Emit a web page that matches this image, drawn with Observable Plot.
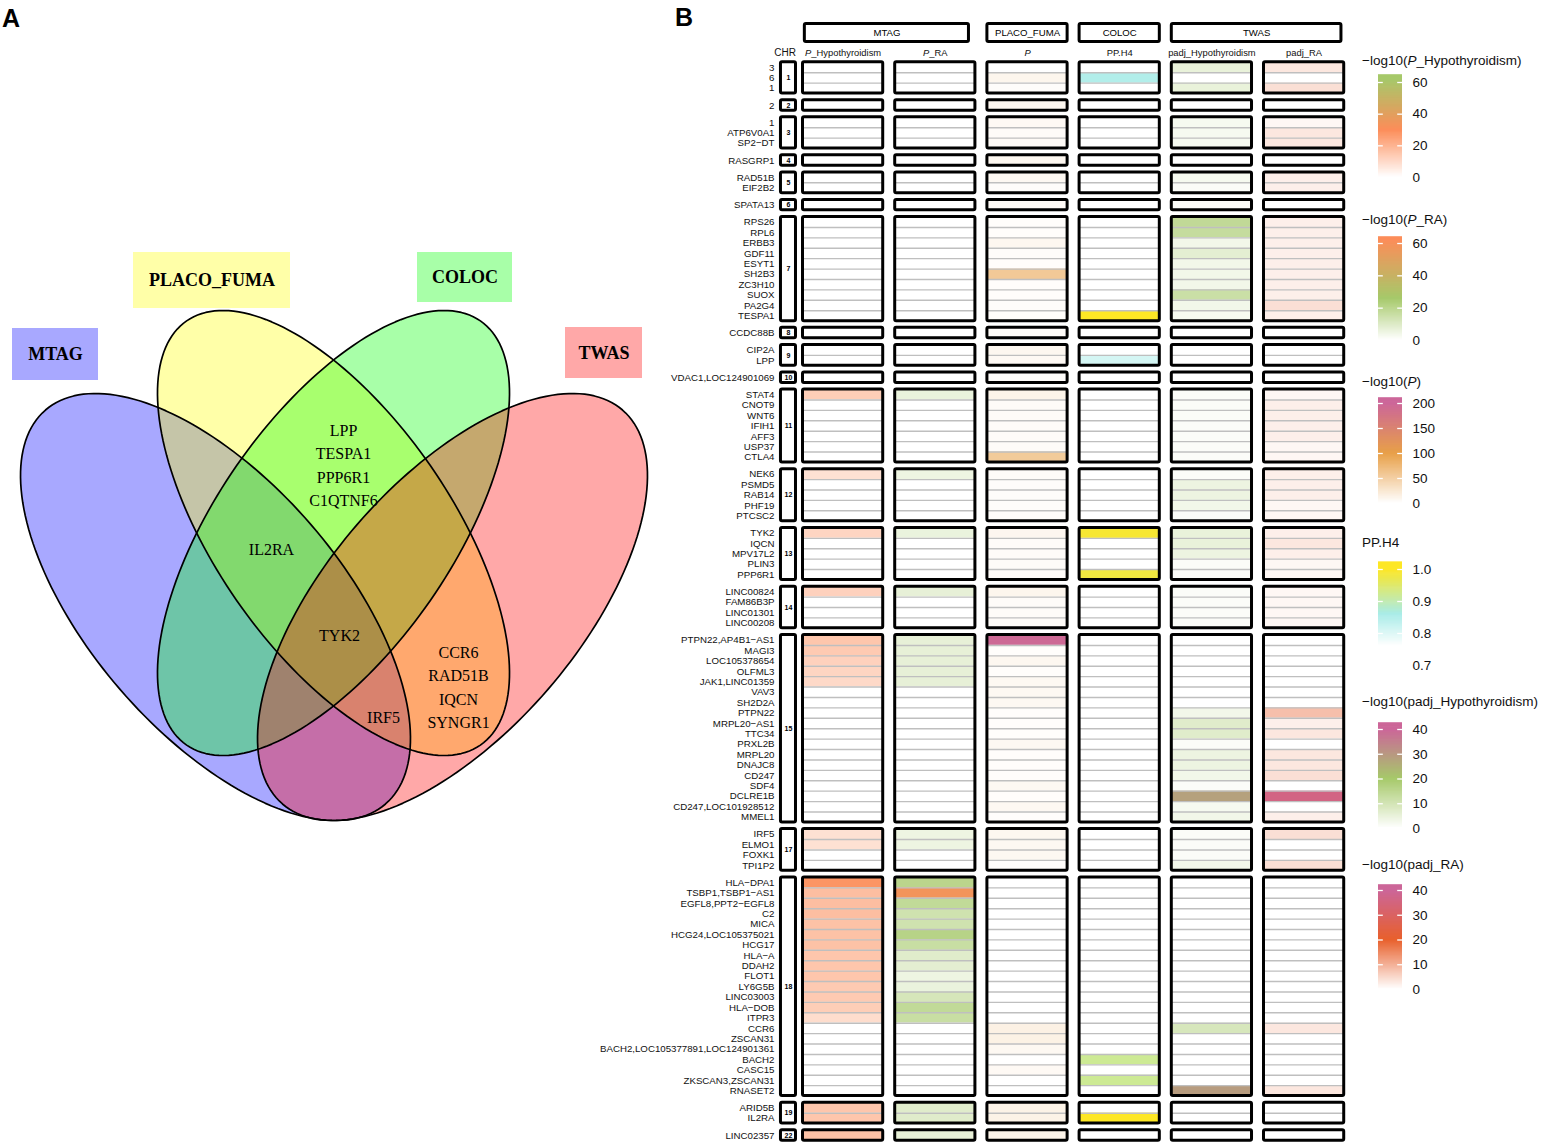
<!DOCTYPE html>
<html><head><meta charset="utf-8">
<script src="https://cdn.jsdelivr.net/npm/d3@7"></script>
<script src="https://cdn.jsdelivr.net/npm/@observablehq/plot@0.6"></script>
<style>
body{margin:0;background:#fff;}
#root{position:relative;width:1554px;height:1147px;overflow:hidden;background:#fff;font-family:"Liberation Sans",Arial,sans-serif;}
.panel{position:absolute;font:bold 25px "Liberation Sans",Arial,sans-serif;color:#000;line-height:25px;}
.ltitle{position:absolute;font:13.5px "Liberation Sans",Arial,sans-serif;color:#111;white-space:nowrap;line-height:16px;}
</style></head><body><div id="root"></div>
<script>
// ---------------- DATA ----------------
// Panel A: Venn sets and shared genes
const vennSets = ["MTAG", "PLACO_FUMA", "COLOC", "TWAS"];
const vennRegions = ["PLACO_FUMA&COLOC", "MTAG&PLACO_FUMA&COLOC", "MTAG&PLACO_FUMA&COLOC&TWAS", "PLACO_FUMA&TWAS", "MTAG&PLACO_FUMA&TWAS"];
const vennGenes = [["LPP", "TESPA1", "PPP6R1", "C1QTNF6"], ["IL2RA"], ["TYK2"], ["CCR6", "RAD51B", "IQCN", "SYNGR1"], ["IRF5"]];

// Panel B: chromosomes and genes
const chromosomes = ["1","2","3","4","5","6","7","8","9","10","11","12","13","14","15","17","18","19","22"];
const genesPerChr = [
  ["3","6","1"],
  ["2"],
  ["1","ATP6V0A1","SP2-DT"],
  ["RASGRP1"],
  ["RAD51B","EIF2B2"],
  ["SPATA13"],
  ["RPS26","RPL6","ERBB3","GDF11","ESYT1","SH2B3","ZC3H10","SUOX","PA2G4","TESPA1"],
  ["CCDC88B"],
  ["CIP2A","LPP"],
  ["VDAC1,LOC124901069"],
  ["STAT4","CNOT9","WNT6","IFIH1","AFF3","USP37","CTLA4"],
  ["NEK6","PSMD5","RAB14","PHF19","PTCSC2"],
  ["TYK2","IQCN","MPV17L2","PLIN3","PPP6R1"],
  ["LINC00824","FAM86B3P","LINC01301","LINC00208"],
  ["PTPN22,AP4B1-AS1","MAGI3","LOC105378654","OLFML3","JAK1,LINC01359","VAV3","SH2D2A","PTPN22","MRPL20-AS1","TTC34","PRXL2B","MRPL20","DNAJC8","CD247","SDF4","DCLRE1B","CD247,LOC101928512","MMEL1"],
  ["IRF5","ELMO1","FOXK1","TPI1P2"],
  ["HLA-DPA1","TSBP1,TSBP1-AS1","EGFL8,PPT2-EGFL8","C2","MICA","HCG24,LOC105375021","HCG17","HLA-A","DDAH2","FLOT1","LY6G5B","LINC03003","HLA-DOB","ITPR3","CCR6","ZSCAN31","BACH2,LOC105377891,LOC124901361","BACH2","CASC15","ZKSCAN3,ZSCAN31","RNASET2"],
  ["ARID5B","IL2RA"],
  ["LINC02357"]
];

const methods = ["MTAG","PLACO_FUMA","COLOC","TWAS"];
const columnNames = ["P_Hypothyroidism","P_RA","P","PP.H4","padj_Hypothyroidism","padj_RA"];

// -log10(P_Hypothyroidism), MTAG
const pHypothyroidism = [
  [0,0,0],[0],[0,0,0],[0],[0,0],[0],[0,0,0,0,0,0,0,0,0,0],[0],[0,0],[0],
  [13,0,0,0,0,0,0],[8,0,0,0,0],[11,0,0,0,0],[12,0,0,0],
  [15,14,12,11,10,0,0,0,0,0,0,0,0,0,0,0,0,0],
  [8,8,0,0],
  [28,17,17,17,16,16,16,15,15,15,14,14,13,9,0,0,0,0,0,0,0],
  [15,15],[16]
];
// -log10(P_RA), MTAG
const pRA = [
  [0,0,0],[0],[0,0,0],[0],[0,0],[0],[0,0,0,0,0,0,0,0,0,0],[0],[0,0],[0],
  [6,0,0,0,0,0,0],[5,0,0,0,0],[6,0,0,0,0],[7,0,0,0],
  [7,7,7,7,7,0,0,0,0,0,0,0,0,0,0,0,0,0],
  [5,5,0,0],
  [20,58,18,14,14,21,16,9,8,5,6,12,18,16,0,0,0,0,0,0,0],
  [9,9],[7]
];
// -log10(P), PLACO_FUMA
const placoP = [
  [0,10,3],[8],[6,4,5],[8],[7,3],[5],[2,2,8,3,2,57,2,2,3,2],[4],[8,6],[3],
  [12,4,4,4,4,4,55],[4,3,3,3,3],[9,4,4,4,4],[10,4,4,4],
  [195,2,8,2,7,7,7,2,2,2,7,2,2,2,7,2,7,2],
  [8,7,7,2],
  [0,0,0,0,0,0,0,0,0,0,0,0,0,0,15,14,7,0,6,0,0],
  [13,13],[12]
];
// PP.H4, COLOC (null = not tested)
const ppH4 = [
  [null,0.85,null],[null],[null,null,null],[null],[null,null],[null],
  [null,null,null,null,null,null,null,null,null,1.0],[null],[null,0.81],[null],
  [null,null,null,null,null,null,null],[null,null,null,null,null],[0.99,null,null,null,0.98],[null,null,null,null],
  [null,null,null,null,null,null,null,null,null,null,null,null,null,null,null,null,null,null],
  [null,null,null,null],
  [null,null,null,null,null,null,null,null,null,null,null,null,null,null,null,null,null,0.92,null,0.92,null],
  [null,1.0],[null]
];
// -log10(padj_Hypothyroidism), TWAS
const padjHypothyroidism = [
  [5,0,5],[0],[2,2,2],[0],[2,1],[1],[14,13,3,6,3,3,3,12,3,2],[0],[0,0],[0],
  [1,1,1,1,1,1,1],[1,4,4,3,1],[5,5,4,1,1],[1,1,1,1],
  [0,0,0,0,0,0,0,3,7,7,1,4,4,3,1,28,2,3],
  [1,1,1,3],
  [0,0,0,0,0,0,0,0,0,0,0,0,0,0,9,0,0,0,0,0,29],
  [0,0],[0]
];
// -log10(padj_RA), TWAS
const padjRA = [
  [3,0,4],[0],[1,3,3],[0],[2,2],[0],[2,2,2,2,2,2,2,2,4,2],[0],[0,0],[0],
  [1,2,2,2,2,1,1],[2,2,2,1,1],[2,3,2,1,1],[1,1,1,1],
  [0,0,0,0,0,0,0,8,2,3,0,3,3,4,0,36,0,2],
  [4,0,0,4],
  [0,0,0,0,0,0,0,0,0,0,0,0,0,0,3,0,0,0,0,0,3],
  [0,0],[0]
];

const legendTitles = ["−log10(<i>P</i>_Hypothyroidism)","−log10(<i>P</i>_RA)","−log10(<i>P</i>)","PP.H4","−log10(padj_Hypothyroidism)","−log10(padj_RA)"];
const legendTicks = [[0,20,40,60],[0,20,40,60],[0,50,100,150,200],[0.7,0.8,0.9,1.0],[0,10,20,30,40],[0,10,20,30,40]];

// ---------------- STYLES / LAYOUT ----------------
const columnValues = [pHypothyroidism, pRA, placoP, ppH4, padjHypothyroidism, padjRA];
const colorScales = [
  {domain:[0,30,62], range:["#ffffff","#fc8d59","#a6c96a"]},
  {domain:[0,26,62], range:["#ffffff","#a6c96a","#fc8d59"]},
  {domain:[0,100,200], range:["#ffffff","#e8a048","#cc6699"]},
  {domain:[0.76,0.86,1.0], range:["#ffffff","#a9ece8","#fde725"]},
  {domain:[0,20,40], range:["#ffffff","#a6c96a","#cc6699"]},
  {domain:[0,20,40], range:["#ffffff","#e8602c","#cc6699"]}
];
// legend geometry (page pixels): [label px of first tick, label px of last tick, bar top, bar bottom, title center]
const legendGeom = [[177,82,75,181,61],[340,243,237,342,220],[503,403,398,503,382],[665,569,562,648,543],[828,729,723,827,702],[989,890,885,992,865]];
const vennColors = ["#0000ff","#ffff00","#00ff00","#ff0000"];
// ellipse geometry in panel pixels (y down): centre, semi-axes, angle of major axis
const vennEllipses = [
  {cx:215, cy:606.5, a:260.2, b:126.1, rot:49.2},
  {cx:333, cy:532.5, a:258, b:118, rot:55.3},
  {cx:333, cy:532.5, a:258, b:118, rot:124.7},
  {cx:452, cy:606.5, a:260.2, b:126.1, rot:130.8}
];
const vennLabelBoxes = [[12,98,328,380],[133,290,252,308],[417,512,252,302],[565,642,327,378]];
const vennRegionPos = [[343,463],[271,547],[339,633],[458,685],[383,715]];

const root = document.getElementById("root");
function place(el, left, top){ el.style.position = "absolute"; el.style.left = left + "px"; el.style.top = top + "px"; root.appendChild(el); return el; }
const dash = s => s.replace(/-/g, "−");

// ---------------- PANEL A ----------------
{
  const pts = e => { const th = e.rot * Math.PI / 180; return d3.range(0, 361, 2).map(deg => { const t = deg * Math.PI / 180; return {x: e.cx + e.a*Math.cos(t)*Math.cos(th) - e.b*Math.sin(t)*Math.sin(th), y: e.cy + e.a*Math.cos(t)*Math.sin(th) + e.b*Math.sin(t)*Math.cos(th)}; }); };
  const marks = [];
  vennEllipses.forEach((e, i) => marks.push(Plot.line(pts(e), {x:"x", y:"y", curve:"linear-closed", fill: vennColors[i], fillOpacity: 0.34, stroke: "none"})));
  vennEllipses.forEach((e, i) => marks.push(Plot.line(pts(e), {x:"x", y:"y", curve:"linear-closed", fill: "none", stroke: "black", strokeWidth: 1.7})));
  vennSets.forEach((s, i) => {
    const b = vennLabelBoxes[i];
    marks.push(Plot.rect([s], {x1: b[0], x2: b[1], y1: b[2], y2: b[3], fill: vennColors[i], fillOpacity: 0.34}));
    marks.push(Plot.text([s], {x: (b[0]+b[1])/2, y: (b[2]+b[3])/2, text: d => d, fontSize: 18, fontWeight: "bold", fontFamily: "Liberation Serif, Times New Roman, serif", fill: "black"}));
  });
  vennRegions.forEach((r, i) => {
    marks.push(Plot.text([vennGenes[i].join("\n")], {x: vennRegionPos[i][0], y: vennRegionPos[i][1], text: d => d, fontSize: 16, lineHeight: 1.46, fontFamily: "Liberation Serif, Times New Roman, serif", fill: "black"}));
  });
  const venn = Plot.plot({width: 660, height: 840, x: {domain:[0,660], range:[0,660], axis: null}, y: {domain:[0,840], range:[0,840], axis: null}, style: {background: "transparent", overflow: "visible"}, marks});
  place(venn, 0, 0);
}
const pa = document.createElement("div"); pa.className = "panel"; pa.textContent = "A"; place(pa, 2, 6);
const pb = document.createElement("div"); pb.className = "panel"; pb.textContent = "B"; place(pb, 675, 5);

// ---------------- PANEL B ----------------
const GAP = 0.644, COLW = 0.87, CHR_X1 = -0.239, CHR_X2 = -0.076;
const rows = []; let idx = 0;
chromosomes.forEach((chr, g) => genesPerChr[g].forEach((gene, k) => { rows.push({chr, g, k, gene, pos: idx + g*GAP}); idx++; }));
const groups = chromosomes.map((chr, g) => { const rs = rows.filter(r => r.g === g); return {chr, y1: rs[0].pos - 0.5, y2: rs[rs.length-1].pos + 0.5, mid: (rs[0].pos + rs[rs.length-1].pos)/2}; });
const lastPos = rows[rows.length-1].pos;
const PX0 = 67, PX1 = 1135;
const yUnit = px => (px - PX0) / ((PX1 - PX0) / lastPos);
const W = 760, H = 1147, LEFT = 590;
const xCfg = {domain:[0,6], range:[212.5, 212.5 + 6*92.2], axis: null};
const yCfg = {domain:[0,lastPos], range:[PX0, PX1], axis: null};
const fontStyle = {background: "transparent", fontFamily: "Liberation Sans, Arial, sans-serif", fontSize: "10px", overflow: "visible"};

// cell overlays, one per column with its own colour scale
columnValues.forEach((vals, c) => {
  const flat = vals.flat();
  const cells = rows.map((r, i) => ({pos: r.pos, v: flat[i]})).filter(d => d.v !== null);
  const p = Plot.plot({width: W, height: H, x: xCfg, y: yCfg,
    color: {type: "linear", domain: colorScales[c].domain, range: colorScales[c].range, interpolate: "rgb", clamp: true},
    style: fontStyle,
    marks: [Plot.rect(cells, {x1: () => c, x2: () => c + COLW, y1: d => d.pos - 0.5, y2: d => d.pos + 0.5, fill: "v"})]});
  place(p, LEFT, 0);
});

// base layer
{
  const cols = d3.range(6);
  const seps = [];
  rows.forEach((r, i) => { if (i < rows.length - 1 && rows[i+1].g === r.g) cols.forEach(c => seps.push({c, y: r.pos + 0.5})); });
  const boxes = [];
  groups.forEach(gr => { boxes.push({x1: CHR_X1, x2: CHR_X2, y1: gr.y1, y2: gr.y2}); cols.forEach(c => boxes.push({x1: c, x2: c + COLW, y1: gr.y1, y2: gr.y2})); });
  const labelByPos = new Map(rows.map(r => [r.pos, dash(r.gene)]));
  const headerSpans = [[0.02,1.80],[2,2.87],[3,3.87],[4,5.84]];
  const headers = methods.map((m, i) => ({m, x1: headerSpans[i][0], x2: headerSpans[i][1]}));
  const hy1 = yUnit(23.5), hy2 = yUnit(41.5), sy = yUnit(52);
  const base = Plot.plot({width: W, height: H, marginLeft: 187, x: xCfg, y: yCfg, style: fontStyle,
    marks: [
      Plot.ruleY(seps, {y: "y", x1: "c", x2: d => d.c + COLW, stroke: "#bfbfbf", strokeWidth: 1.4}),
      Plot.rect(boxes, {x1: "x1", x2: "x2", y1: "y1", y2: "y2", fill: "none", stroke: "black", strokeWidth: 3, rx: 1.5}),
      Plot.text(groups, {x: (CHR_X1 + CHR_X2)/2, y: "mid", text: "chr", fontSize: 7, fontWeight: "bold", fill: "black"}),
      Plot.axisY(rows.map(r => r.pos), {anchor: "left", tickSize: 0, tickPadding: 3, tickFormat: p => labelByPos.get(p), fontSize: 9.7, label: null, fill: "#111"}),
      Plot.rect(headers, {x1: "x1", x2: "x2", y1: hy1, y2: hy2, fill: "white", stroke: "black", strokeWidth: 3, rx: 1.5}),
      Plot.text(headers, {x: d => (d.x1 + d.x2)/2, y: (hy1 + hy2)/2, text: "m", fontSize: 9.6, fill: "black"}),
      Plot.text(columnNames, {x: (d, i) => i + COLW/2, y: sy, text: d => d, fontSize: 9.4, fill: "#111"}),
      Plot.text(["CHR"], {x: CHR_X2, y: sy, text: d => d, textAnchor: "end", fontSize: 10, fill: "#111"})
    ]});
  const italic = new Set(["P_Hypothyroidism", "P_RA", "P"]);
  d3.select(base).selectAll("text").each(function() {
    const t = this.textContent;
    if (italic.has(t) && !this.querySelector("tspan")) {
      this.textContent = "";
      d3.select(this).append("tspan").attr("font-style", "italic").text("P");
      d3.select(this).append("tspan").text(t.slice(1));
    }
  });
  place(base, LEFT, 0);
}

// legends
legendTitles.forEach((title, i) => {
  const [p0, pN, bTop, bBot, tY] = legendGeom[i];
  const ticks = legendTicks[i];
  const t0 = ticks[0], tN = ticks[ticks.length-1];
  const vAt = px => t0 + (px - p0) * (tN - t0) / (pN - p0);
  const lo = vAt(bBot), hi = vAt(bTop);
  const N = 80, step = (hi - lo) / N;
  const steps = d3.range(N).map(k => ({a: lo + k*step, b: lo + (k+1)*step + step*0.6, m: lo + (k+0.5)*step}));
  const top = bTop - 14;
  const height = Math.max(bBot, p0, pN) + 16 - top;
  const fmt = i === 3 ? d3.format(".1f") : d3.format("d");
  const inner = ticks.filter(t => t > lo && t < hi);
  const lp = Plot.plot({width: 120, height, x: {domain:[0,1], range:[38,62], axis: null}, y: {domain:[t0, tN], range:[p0 - top, pN - top], axis: null},
    color: {type: "linear", domain: colorScales[i].domain, range: colorScales[i].range, interpolate: "rgb", clamp: true},
    style: {background: "transparent", fontFamily: "Liberation Sans, Arial, sans-serif", overflow: "visible"},
    marks: [
      Plot.rect(steps, {x1: 0, x2: 1, y1: "a", y2: "b", fill: "m"}),
      Plot.ruleY(inner, {x1: 0, x2: 0.2, stroke: "white", strokeWidth: 1.3}),
      Plot.ruleY(inner, {x1: 0.8, x2: 1, stroke: "white", strokeWidth: 1.3}),
      Plot.text(ticks, {x: 1, y: d => d, dx: 10, textAnchor: "start", text: d => fmt(d), fontSize: 13.5, fill: "#111"})
    ]});
  place(lp, 1340, top);
  const tl = document.createElement("div"); tl.className = "ltitle"; tl.innerHTML = title; place(tl, 1362, tY - 8);
});
</script></body></html>
